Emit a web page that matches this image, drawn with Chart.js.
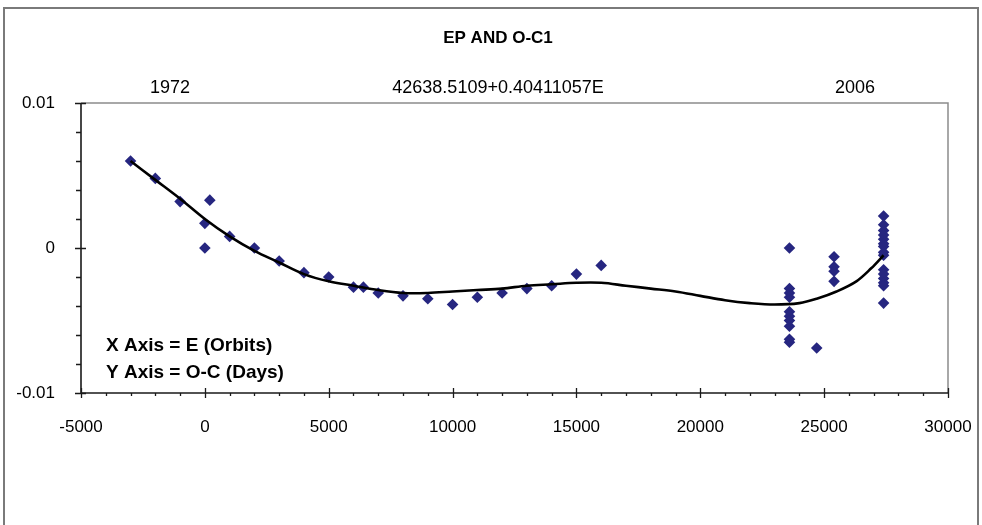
<!DOCTYPE html>
<html><head><meta charset="utf-8">
<script src="https://cdn.jsdelivr.net/npm/chart.js@4/dist/chart.umd.min.js"></script>
<style>html,body{margin:0;padding:0;background:#fff;overflow:hidden}#wrap{width:982px;height:525px;position:relative}</style>
</head><body><div id="wrap"><canvas id="c" width="982" height="525"></canvas></div>
<script>
// ---- data ----
const chartTitle = 'EP AND O-C1';
const headerLabels = ['1972', '42638.5109+0.40411057E', '2006'];
const noteLines = ['X Axis = E (Orbits)', 'Y Axis = O-C (Days)'];
const xTickValues = [-5000, 0, 5000, 10000, 15000, 20000, 25000, 30000];
const yTickValues = [-0.01, 0, 0.01];

// observed O-C points (E in orbits, O-C in days)
const obsE = [-3000, -2000, -1000, 200, 0, 0, 1000, 2000, 3000, 4000, 5000, 6000, 6400, 7000, 8000,
  9000, 10000, 11000, 12000, 13000, 14000, 15000, 16000,
  23600, 23600, 23600, 23600, 23600, 23600, 23600, 23600, 23600, 23600,
  24700,
  25400, 25400, 25400, 25400,
  27400, 27400, 27400, 27400, 27400, 27400, 27400, 27400, 27400, 27400, 27400, 27400, 27400, 27400, 27400];
const obsOC = [0.0060, 0.0048, 0.0032, 0.0033, 0.0017, 0.0000, 0.0008, 0.0000, -0.0009, -0.0017, -0.0020, -0.0027, -0.0027, -0.0031, -0.0033,
  -0.0035, -0.0039, -0.0034, -0.0031, -0.0028, -0.0026, -0.0018, -0.0012,
  0.0000, -0.0028, -0.0031, -0.0034, -0.0044, -0.0047, -0.0050, -0.0054, -0.0063, -0.0065,
  -0.0069,
  -0.0006, -0.0013, -0.0016, -0.0023,
  0.0022, 0.0016, 0.0012, 0.0009, 0.0006, 0.0003, 0.0001, -0.0003, -0.0005, -0.0015, -0.0018, -0.0021, -0.0024, -0.0026, -0.0038];

// trend curve
const fitE = [-3000, -2000, -1000, 0, 1000, 2000, 3000, 4000, 5000, 6000, 7000, 8000, 9000, 10000, 11000, 12000,
  13000, 14000, 15000, 16000, 17000, 18000, 19000, 20000, 21000, 22000, 23000, 24000, 24700, 25500, 26300, 26900, 27400];
const fitOC = [0.0060, 0.0047, 0.0034, 0.0020, 0.0008, -0.0002, -0.0010, -0.0018, -0.0023, -0.0026, -0.0029, -0.0031, -0.0031, -0.0030, -0.0029, -0.0028,
  -0.0026, -0.0025, -0.0024, -0.0024, -0.0026, -0.0028, -0.0030, -0.0033, -0.0036, -0.0038, -0.0039, -0.0038, -0.0035, -0.0030, -0.0023, -0.0014, -0.0005];

const FONT = "'Liberation Sans', Arial, sans-serif";

const decor = {
  id: 'decor',
  beforeDraw(chart) {
    const ctx = chart.ctx;
    ctx.save();
    ctx.fillStyle = '#fff';
    ctx.fillRect(0, 0, chart.width, chart.height);
    // outer frame
    ctx.strokeStyle = '#7a7a7a';
    ctx.lineWidth = 2;
    ctx.strokeRect(4, 8, 974, 540);
    ctx.restore();
  },
  beforeDatasetsDraw(chart) {
    const ctx = chart.ctx, a = chart.chartArea;
    ctx.save();
    ctx.strokeStyle = '#8c8c8c';
    ctx.lineWidth = 1.5;
    ctx.beginPath();
    ctx.moveTo(a.left, a.top); ctx.lineTo(a.right, a.top); ctx.lineTo(a.right, a.bottom);
    ctx.stroke();
    ctx.restore();
  },
  afterDraw(chart) {
    const ctx = chart.ctx, a = chart.chartArea;
    const xs = chart.scales.x, ys = chart.scales.y;
    ctx.save();
    ctx.strokeStyle = '#1a1a1a';
    ctx.lineWidth = 1.6;
    ctx.beginPath();
    ctx.moveTo(a.left, a.top); ctx.lineTo(a.left, a.bottom); ctx.lineTo(a.right, a.bottom);
    ctx.stroke();
    ctx.lineWidth = 1.3;
    ctx.beginPath();
    // x ticks
    for (let v = xs.min; v <= xs.max + 1; v += 1000) {
      const px = Math.round(xs.getPixelForValue(v)) + 0.5;
      const major = Math.abs(v % 5000) < 1;
      if (major) { ctx.moveTo(px, a.bottom - 5); ctx.lineTo(px, a.bottom + 5); }
      else { ctx.moveTo(px, a.bottom); ctx.lineTo(px, a.bottom + 3); }
    }
    // y ticks
    for (let i = 0; i <= 10; i++) {
      const v = ys.min + i * 0.002;
      const py = Math.round(ys.getPixelForValue(v)) + 0.5;
      const major = (i % 5) === 0;
      if (major) { ctx.moveTo(a.left - 6, py); ctx.lineTo(a.left + 5, py); }
      else { ctx.moveTo(a.left - 5, py); ctx.lineTo(a.left, py); }
    }
    ctx.stroke();

    // title
    ctx.fillStyle = '#000';
    ctx.textAlign = 'center';
    ctx.textBaseline = 'middle';
    ctx.font = 'bold 17px ' + FONT;
    ctx.fillText(chartTitle, 498, 38);
    // header row
    ctx.font = '18px ' + FONT;
    ctx.fillText(headerLabels[0], 170, 88);
    ctx.fillText(headerLabels[1], 498, 88);
    ctx.fillText(headerLabels[2], 855, 88);
    // notes
    ctx.textAlign = 'left';
    ctx.font = 'bold 19px ' + FONT;
    ctx.fillText(noteLines[0], 106, 346);
    ctx.fillText(noteLines[1], 106, 373);
    ctx.restore();
  }
};

function noPad(s) { s.paddingLeft = 0; s.paddingRight = 0; s.paddingTop = 0; s.paddingBottom = 0; }

new Chart(document.getElementById('c'), {
  type: 'scatter',
  data: {
    datasets: [
      {
        label: 'O-C',
        data: obsE.map((e, i) => ({ x: e, y: obsOC[i] })),
        pointStyle: 'rectRot',
        pointRadius: 5.8,
        pointBackgroundColor: '#262680',
        pointBorderColor: '#262680',
        pointBorderWidth: 0,
        showLine: false,
        order: 2
      },
      {
        label: 'Trend',
        data: fitE.map((e, i) => ({ x: e, y: fitOC[i] })),
        showLine: true,
        pointRadius: 0,
        borderColor: '#000',
        borderWidth: 2.6,
        tension: 0.35,
        fill: false,
        order: 1
      }
    ]
  },
  options: {
    responsive: false,
    animation: false,
    devicePixelRatio: 1,
    layout: { padding: { left: 0, right: 34, top: 103, bottom: 0 } },
    plugins: { legend: { display: false }, title: { display: false }, tooltip: { enabled: false } },
    scales: {
      x: {
        type: 'linear', min: -5000, max: 30000,
        grid: { display: false }, border: { display: false },
        afterBuildTicks(s) { s.ticks = xTickValues.map(v => ({ value: v })); },
        ticks: { color: '#000', font: { family: FONT, size: 17 }, padding: 16, maxRotation: 0, autoSkip: false,
          callback: v => String(v) },
        afterFit(s) { s.height = 132; noPad(s); }
      },
      y: {
        type: 'linear', min: -0.01, max: 0.01,
        grid: { display: false }, border: { display: false },
        afterBuildTicks(s) { s.ticks = yTickValues.map(v => ({ value: v })); },
        ticks: { color: '#000', font: { family: FONT, size: 17 }, padding: 18, autoSkip: false,
          callback: v => String(Number(Number(v).toFixed(4))) },
        afterFit(s) { s.width = 81; noPad(s); }
      }
    }
  },
  plugins: [decor]
});
</script></body></html>
